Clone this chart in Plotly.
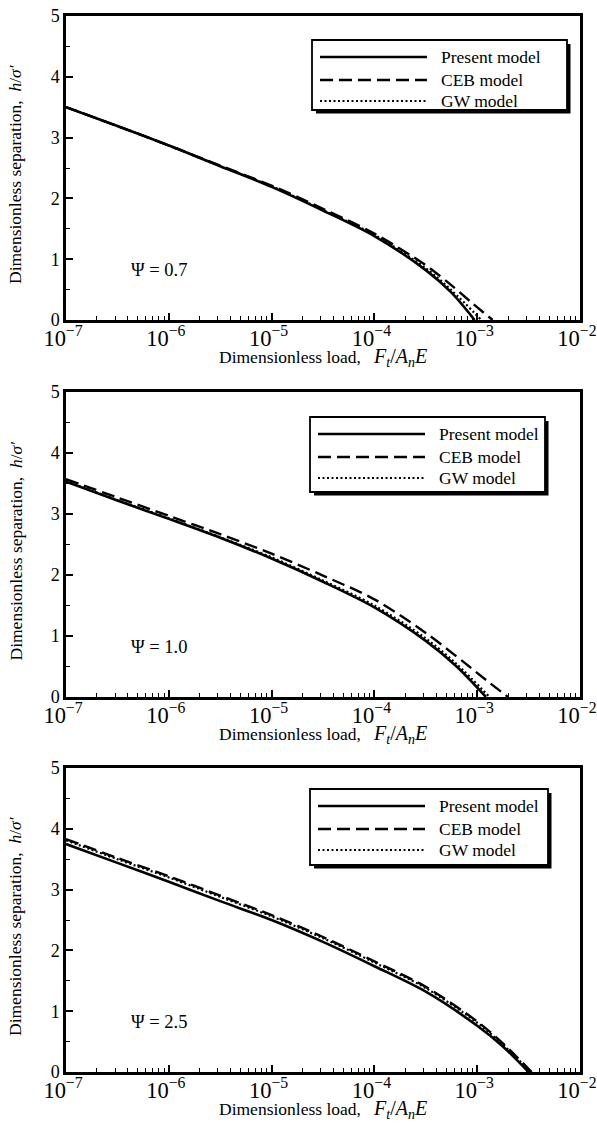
import plotly.graph_objects as go

# ---------------- data (x given as log10 of dimensionless load) ----------------
# Panel 1 : Psi = 0.7
p1_present_lx = [-7, -6.5, -6, -5.5, -5, -4.5, -4, -3.5, -3.25, -3.025]
p1_present_h = [3.50, 3.19, 2.87, 2.53, 2.19, 1.80, 1.38, 0.82, 0.45, 0.0]
p1_ceb_lx = [-7, -6.5, -6, -5.5, -5, -4.5, -4, -3.5, -3.25, -3.05, -2.85]
p1_ceb_h = [3.50, 3.19, 2.87, 2.54, 2.21, 1.83, 1.42, 0.90, 0.57, 0.28, 0.0]
p1_gw_lx = [-7, -6.5, -6, -5.5, -5, -4.5, -4, -3.5, -3.25, -2.96]
p1_gw_h = [3.50, 3.19, 2.87, 2.53, 2.20, 1.81, 1.40, 0.85, 0.49, 0.0]

# Panel 2 : Psi = 1.0
p2_present_lx = [-7, -6.5, -6, -5.5, -5, -4.5, -4, -3.5, -3.2, -2.915]
p2_present_h = [3.53, 3.22, 2.92, 2.61, 2.27, 1.89, 1.47, 0.92, 0.50, 0.0]
p2_ceb_lx = [-7, -6.5, -6, -5.5, -5, -4.5, -4, -3.5, -3.1, -2.9, -2.70]
p2_ceb_h = [3.57, 3.27, 2.97, 2.67, 2.35, 1.99, 1.60, 1.05, 0.53, 0.26, 0.0]
p2_gw_lx = [-7, -6.5, -6, -5.5, -5, -4.5, -4, -3.5, -3.2, -2.88]
p2_gw_h = [3.54, 3.23, 2.93, 2.62, 2.29, 1.91, 1.50, 0.96, 0.54, 0.0]

# Panel 3 : Psi = 2.5
p3_present_lx = [-7, -6.5, -6, -5.5, -5, -4.5, -4, -3.5, -3, -2.75, -2.50]
p3_present_h = [3.75, 3.44, 3.13, 2.81, 2.50, 2.14, 1.74, 1.32, 0.76, 0.42, 0.0]
p3_ceb_lx = [-7, -6.5, -6, -5.5, -5, -4.5, -4, -3.5, -3, -2.75, -2.47]
p3_ceb_h = [3.83, 3.52, 3.22, 2.90, 2.58, 2.22, 1.82, 1.40, 0.83, 0.47, 0.0]
p3_gw_lx = [-7, -6.5, -6, -5.5, -5, -4.5, -4, -3.5, -3, -2.75, -2.48]
p3_gw_h = [3.81, 3.50, 3.20, 2.88, 2.56, 2.20, 1.80, 1.38, 0.81, 0.45, 0.0]

panel_psi = ["Ψ = 0.7", "Ψ = 1.0", "Ψ = 2.5"]
series_names = ["Present model", "CEB model", "GW model"]

panels = [
    [(p1_present_lx, p1_present_h), (p1_ceb_lx, p1_ceb_h), (p1_gw_lx, p1_gw_h)],
    [(p2_present_lx, p2_present_h), (p2_ceb_lx, p2_ceb_h), (p2_gw_lx, p2_gw_h)],
    [(p3_present_lx, p3_present_h), (p3_ceb_lx, p3_ceb_h), (p3_gw_lx, p3_gw_h)],
]

# ---------------- layout geometry (pixels) ----------------
W, H = 597, 1130
FONT = "Liberation Serif"
x_dom = [66 / W, 580 / W]
y_doms_px = [(16, 320), (392, 697), (768, 1072)]
# legend boxes: (left, top, right, bottom), row centres, sample x-range, text x
legend_boxes = [(312, 40, 567, 110), (310, 417, 545, 492), (310, 789, 548, 865)]
legend_row_offsets = [17, 40, 61]
sample_dx = (8, 115)
text_dx = 127
styles = [
    dict(color="black", width=2.6, dash="solid"),
    dict(color="black", width=2.4, dash="13px,6px"),
    dict(color="black", width=2.2, dash="2px,2.5px"),
]


def px(xp):
    return xp / W


def py(yp):
    return 1 - yp / H


fig = go.Figure()
annotations = []
shapes = []
for i, panel in enumerate(panels):
    n = "" if i == 0 else str(i + 1)
    xa, ya = "x" + n, "y" + n
    for j, (lx, h) in enumerate(panel):
        fig.add_trace(go.Scatter(
            x=[10 ** v for v in lx], y=h, mode="lines",
            name=series_names[j], line=dict(**styles[j], shape="spline", smoothing=0.9),
            xaxis=xa, yaxis=ya, showlegend=False,
        ))
    top, bot = y_doms_px[i]
    ydom = [py(bot), py(top)]
    axis_common = dict(
        showline=True, linewidth=2.5, linecolor="black", mirror=True,
        ticks="inside", tickwidth=1.5, tickcolor="black", ticklen=7,
        showgrid=False, zeroline=False, automargin=False,
        ticklabeloverflow="allow",
        tickfont=dict(family=FONT, size=18, color="black"),
    )
    fig.layout["xaxis" + n] = dict(
        type="log", range=[-7, -1.9999], dtick=1, exponentformat="power",
        domain=x_dom, anchor=ya, ticklabelstandoff=-3, ticklabelshift=-3,
        minor=dict(ticks="inside", ticklen=4, tickwidth=1.3, tickcolor="black", showgrid=False),
        **axis_common,
    )
    fig.layout["yaxis" + n] = dict(
        range=[0, 5], dtick=1, domain=ydom, anchor=xa,
        minor=dict(dtick=0.5, ticks="inside", ticklen=4, tickwidth=1.3, tickcolor="black", showgrid=False),
        **axis_common,
    )

    # ---- legend (box with drop shadow, long line samples) ----
    bx0, by0, bx1, by1 = legend_boxes[i]
    shapes.append(dict(
        type="rect", xref="paper", yref="paper", layer="above",
        x0=px(bx0 + 4), x1=px(bx1 + 3.5), y0=py(by1 + 3.5), y1=py(by0 + 4),
        fillcolor="black", line=dict(width=0),
    ))
    shapes.append(dict(
        type="rect", xref="paper", yref="paper", layer="above",
        x0=px(bx0), x1=px(bx1), y0=py(by1), y1=py(by0),
        fillcolor="white", line=dict(color="black", width=1.8),
    ))
    for j, name in enumerate(series_names):
        ry = by0 + legend_row_offsets[j]
        st = styles[j]
        shapes.append(dict(
            type="line", xref="paper", yref="paper", layer="above",
            x0=px(bx0 + sample_dx[0]), x1=px(bx0 + sample_dx[1]), y0=py(ry), y1=py(ry),
            line=dict(color=st["color"], width=st["width"], dash=st["dash"]),
        ))
        annotations.append(dict(
            x=px(bx0 + text_dx), y=py(ry), xref="paper", yref="paper",
            xanchor="left", yanchor="middle", text=name, showarrow=False,
            font=dict(family=FONT, size=17.5, color="black"),
        ))

    # Psi label
    annotations.append(dict(
        x=-6.1, y=0.82, xref=xa, yref=ya, text=panel_psi[i], showarrow=False,
        xanchor="center", yanchor="middle",
        font=dict(family=FONT, size=18.5, color="black"),
    ))
    # axis titles
    annotations.append(dict(
        x=px(15), y=py((top + bot) / 2 + 6), xref="paper", yref="paper",
        xanchor="center", yanchor="middle",
        text="Dimensionless separation,  <i>h</i>/<i>σ′</i>", textangle=-90,
        showarrow=False, font=dict(family=FONT, size=17.5, color="black"),
    ))
    annotations.append(dict(
        x=(x_dom[0] + x_dom[1]) / 2, y=py(bot + 37), xref="paper", yref="paper",
        xanchor="center", yanchor="middle",
        text=("Dimensionless load,&nbsp;&nbsp;&nbsp;<span style='font-size:20px'>"
              "<i>F<sub>t</sub></i>/<i>A<sub>n</sub>E</i></span>"),
        showarrow=False, font=dict(family=FONT, size=17.5, color="black"),
    ))

fig.update_layout(
    template="none",
    width=W, height=H, margin=dict(l=0, r=0, t=0, b=0, autoexpand=False),
    paper_bgcolor="white", plot_bgcolor="white",
    annotations=annotations, shapes=shapes,
    font=dict(family=FONT, color="black"),
)
fig.write_html(
    "out.html",
    config={"displayModeBar": False},
    post_script="document.body.style.margin='0';document.body.style.overflow='hidden';",
)
